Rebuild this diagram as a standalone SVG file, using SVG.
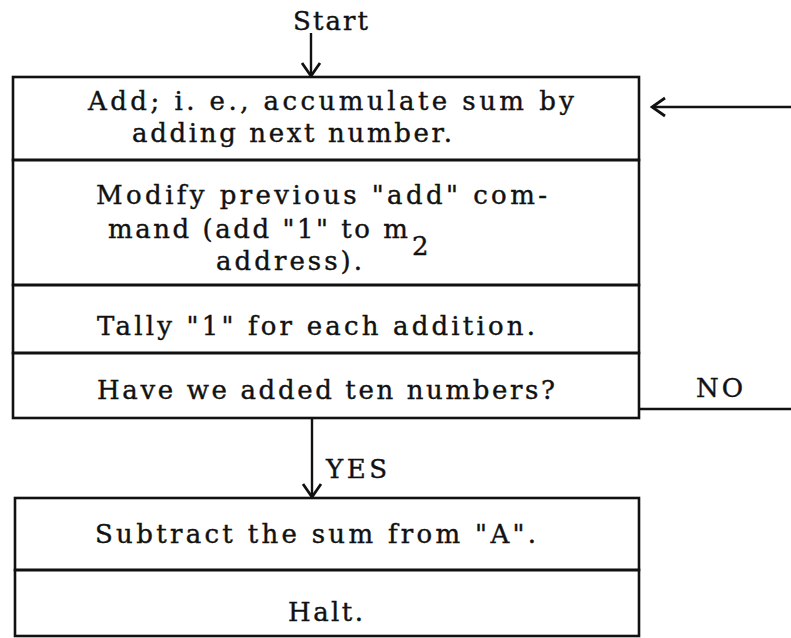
<svg xmlns="http://www.w3.org/2000/svg" width="791" height="638" viewBox="0 0 791 638">
  <style>
    .box { fill: none; stroke: #111; stroke-width: 2.6; }
    .t { font-family: "DejaVu Serif", "Liberation Serif", serif; font-size: 26px; fill: #111; stroke: #111; stroke-width: 0.4; }
    .conn { fill: none; stroke: #111; stroke-width: 2.4; }
  </style>
  <defs>
    <marker id="arrow" viewBox="-16 -11 18 22" refX="0" refY="0" markerWidth="18" markerHeight="22" markerUnits="userSpaceOnUse" orient="auto">
      <path d="M-13,-9 L0,0 L-13,9" fill="none" stroke="#111" stroke-width="2.8" stroke-linejoin="miter"/>
    </marker>
  </defs>
  <rect width="791" height="638" fill="#fff"/>

  <g id="start">
    <text class="t" x="293" y="30" textLength="75" lengthAdjust="spacing">Start</text>
  </g>

  <g id="add">
    <rect class="box" x="13" y="77" width="626" height="83"/>
    <text class="t" x="88" y="110" textLength="486" lengthAdjust="spacing">Add; i. e., accumulate sum by</text>
    <text class="t" x="132" y="142" textLength="320" lengthAdjust="spacing">adding next number.</text>
  </g>

  <g id="modify">
    <rect class="box" x="13" y="160" width="626" height="125"/>
    <text class="t" x="96" y="204" textLength="451" lengthAdjust="spacing">Modify previous "add" com-</text>
    <text class="t" x="108" y="238" textLength="300" lengthAdjust="spacing">mand (add "1" to m</text>
    <text class="t" x="412" y="255">2</text>
    <text class="t" x="216" y="270" textLength="146" lengthAdjust="spacing">address).</text>
  </g>

  <g id="tally">
    <rect class="box" x="13" y="285" width="626" height="68"/>
    <text class="t" x="97" y="335" textLength="438" lengthAdjust="spacing">Tally "1" for each addition.</text>
  </g>

  <g id="test">
    <rect class="box" x="13" y="353" width="626" height="65"/>
    <text class="t" x="97" y="399" textLength="458" lengthAdjust="spacing">Have we added ten numbers?</text>
  </g>

  <g id="subtract">
    <rect class="box" x="15" y="498" width="624" height="72"/>
    <text class="t" x="95" y="543" textLength="441" lengthAdjust="spacing">Subtract the sum from "A".</text>
  </g>

  <g id="halt">
    <rect class="box" x="15" y="570" width="624" height="66"/>
    <text class="t" x="288" y="621" textLength="75" lengthAdjust="spacing">Halt.</text>
  </g>

  <g id="connectors">
    <path class="conn" d="M311,33 V76" marker-end="url(#arrow)"/>
    <path class="conn" d="M312,418 V497" marker-end="url(#arrow)"/>
    <path class="conn" d="M639,409 H791"/>
    <path class="conn" d="M791,107 H652" marker-end="url(#arrow)"/>
    <text class="t" x="696" y="397" textLength="47" lengthAdjust="spacing">NO</text>
    <text class="t" x="326" y="478" textLength="61" lengthAdjust="spacing">YES</text>
  </g>
</svg>
